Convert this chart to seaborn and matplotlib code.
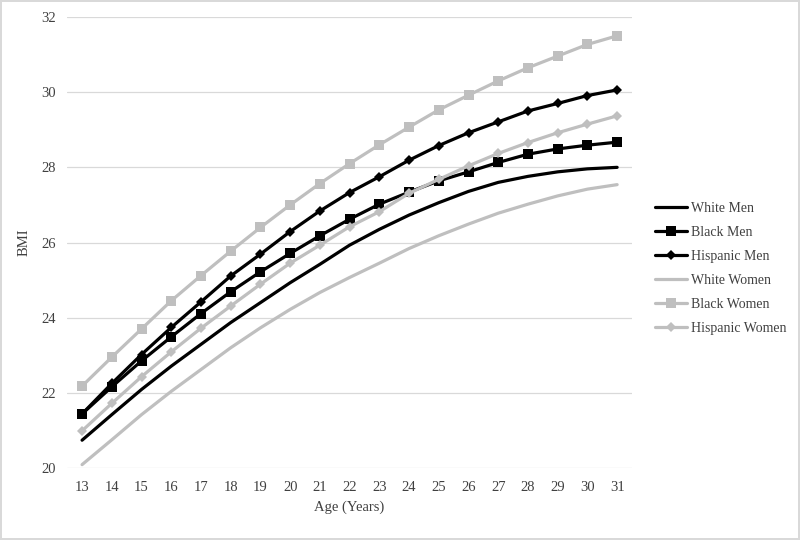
import numpy as np
import pandas as pd
import matplotlib
matplotlib.use("Agg")
import matplotlib.pyplot as plt
import seaborn as sns

# Data
ages = list(range(13, 32))
white_men = [20.74, 21.42, 22.09, 22.71, 23.29, 23.87, 24.40, 24.93, 25.42, 25.93,
             26.35, 26.73, 27.06, 27.36, 27.60, 27.76, 27.88, 27.96, 28.00]
black_men = [21.44, 22.16, 22.85, 23.49, 24.11, 24.69, 25.22, 25.71, 26.18, 26.62,
             27.02, 27.34, 27.64, 27.88, 28.13, 28.35, 28.49, 28.59, 28.67]
hispanic_men = [21.44, 22.25, 23.02, 23.74, 24.42, 25.11, 25.69, 26.29, 26.84, 27.33,
                27.75, 28.19, 28.58, 28.92, 29.21, 29.50, 29.70, 29.91, 30.06]
white_women = [20.09, 20.75, 21.42, 22.04, 22.62, 23.20, 23.73, 24.22, 24.67, 25.07,
               25.45, 25.84, 26.18, 26.49, 26.78, 27.02, 27.24, 27.42, 27.54]
black_women = [22.18, 22.95, 23.70, 24.45, 25.12, 25.77, 26.40, 27.00, 27.57, 28.10,
               28.60, 29.07, 29.53, 29.92, 30.30, 30.65, 30.96, 31.27, 31.50]
hispanic_women = [20.99, 21.72, 22.43, 23.09, 23.72, 24.31, 24.89, 25.45, 25.93, 26.42,
                  26.82, 27.31, 27.68, 28.04, 28.37, 28.66, 28.92, 29.15, 29.37]

groups = ["White Men", "Black Men", "Hispanic Men",
          "White Women", "Black Women", "Hispanic Women"]
series = [white_men, black_men, hispanic_men, white_women, black_women, hispanic_women]

df = pd.DataFrame({
    "Age": ages * len(groups),
    "BMI": [v for s in series for v in s],
    "Group": [g for g in groups for _ in ages],
})

sns.set_style("white")
plt.rcParams["font.family"] = ["Liberation Serif", "DejaVu Serif"]

black = "#000000"
gray = "#bfbfbf"
styles = {
    "White Men": (black, None, 0),
    "Black Men": (black, "s", 7.5),
    "Hispanic Men": (black, "D", 5),
    "White Women": (gray, None, 0),
    "Black Women": (gray, "s", 7.5),
    "Hispanic Women": (gray, "D", 5),
}

fig = plt.figure(figsize=(8, 5.4), dpi=100)
ax = fig.add_axes([0.084, 0.1333, 0.706, 0.8352])

for g in groups:
    color, marker, ms = styles[g]
    sub = df[df["Group"] == g]
    sns.lineplot(data=sub, x="Age", y="BMI", ax=ax, color=color, lw=2.3,
                 marker=marker, markersize=ms, markeredgewidth=0,
                 label=g, legend=False)

ax.set_xlim(12.5, 31.5)
ax.set_ylim(20, 32)
ax.set_xticks(ages)
ax.set_yticks(np.arange(20, 33, 2))
ax.yaxis.grid(True, color="#d9d9d9", lw=0.9)
ax.set_axisbelow(True)
sns.despine(ax=ax, left=True, bottom=True)
ax.tick_params(axis="both", length=0, labelsize=10.5, colors="#404040")
ax.tick_params(axis="x", pad=9)
ax.tick_params(axis="y", pad=8)
ax.set_xlabel("Age (Years)", fontsize=10.5, color="#404040", labelpad=5)
ax.set_ylabel("BMI", fontsize=10.5, color="#404040", labelpad=8)

handles, labels = ax.get_legend_handles_labels()
leg = fig.legend(handles, labels, loc="upper left", bbox_to_anchor=(0.812, 0.637),
                 frameon=False, fontsize=10, handlelength=2.3,
                 handletextpad=0.25, labelspacing=0.8, borderaxespad=0)
for t in leg.get_texts():
    t.set_color("#404040")

fig.patch.set_edgecolor("#d9d9d9")
fig.patch.set_linewidth(1.5)
fig.savefig("out.png", dpi=100, edgecolor=fig.get_edgecolor())
